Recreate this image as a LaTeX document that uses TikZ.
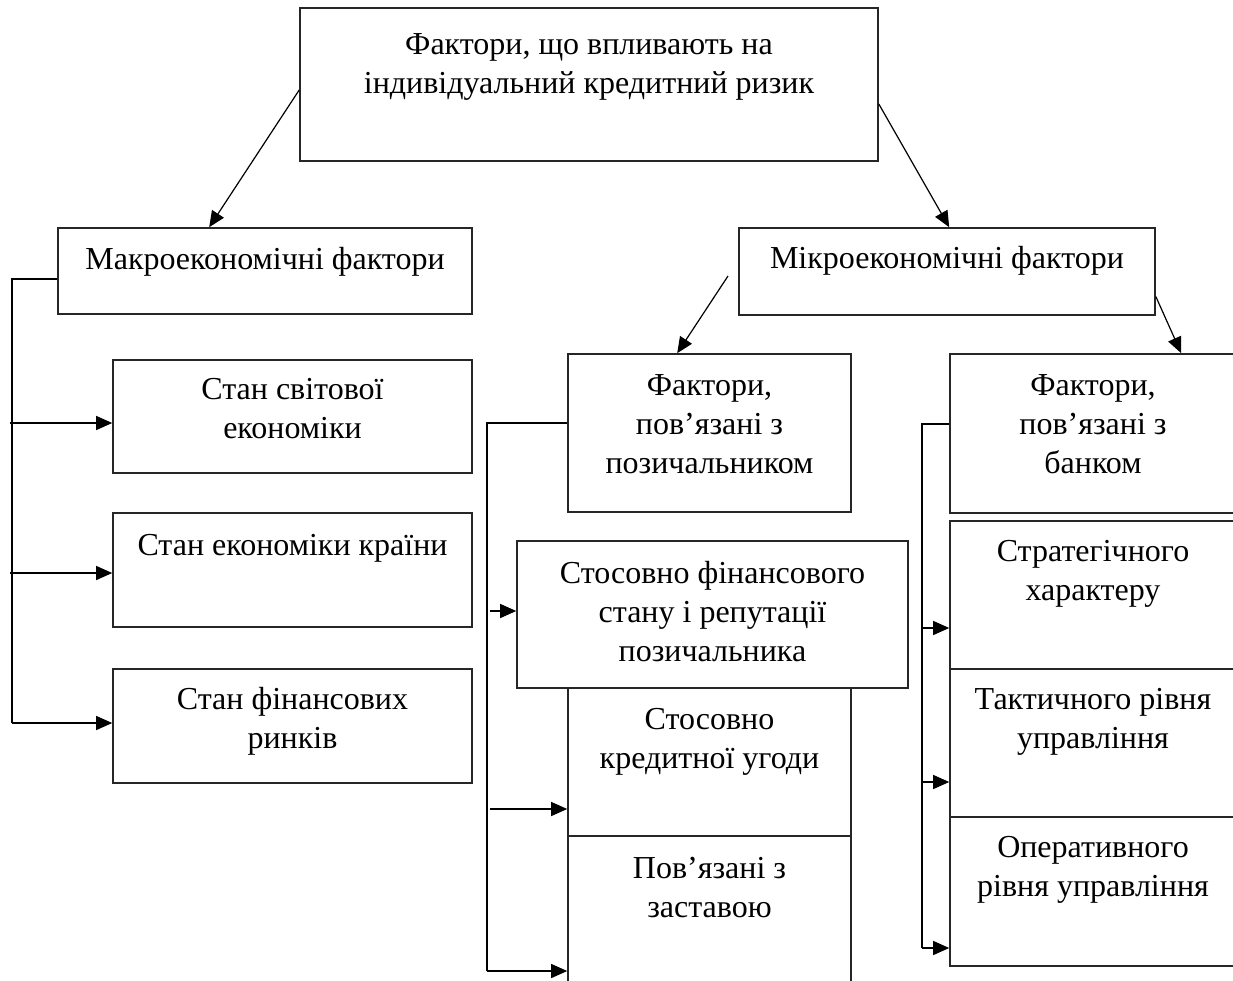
\documentclass[tikz,border=0pt]{standalone}
\usepackage{fontspec}
\setmainfont{Liberation Serif}
\usetikzlibrary{arrows.meta,calc,fit}
\newcommand\mystrut{\rule{0pt}{28pt}}
\tikzset{
  box/.style={draw=black!85, line width=1.6pt, inner sep=0pt, fill=none},
  txt/.style={anchor=north, align=center, inner sep=0pt,
    font=\fontsize{32}{39}\selectfont},
  conn/.style={draw=black, line width=1.2pt},
  arr/.style={conn, -{Triangle[length=16pt,width=14pt]}}
}
\begin{document}
\begin{tikzpicture}[x=1pt,y=-1pt]
\useasboundingbox (0,0) rectangle (1233,980);
\clip (0,0) rectangle (1233,980);
\fill[white] (0,0) rectangle (1233,980);
% boxes
\node[box, fit={(300,8) (878,161)}] (top) {};
\node[box, fit={(58,228) (472,314)}] (macro) {};
\node[box, fit={(739,228) (1155,315)}] (micro) {};
\node[box, fit={(113,360) (472,473)}] (s1) {};
\node[box, fit={(113,513) (472,627)}] (s2) {};
\node[box, fit={(113,669) (472,783)}] (s3) {};
\node[box, fit={(568,354) (851,512)}] (borrower) {};
\node[box, fit={(517,541) (908,688)}] (fin) {};
\node[box, fit={(568,688) (851,836)}] (credit) {};
\node[box, fit={(568,836) (851,1000)}] (collat) {};
\node[box, fit={(950,354) (1236,513)}] (bank) {};
\node[box, fit={(950,521) (1236,669)}] (strat) {};
\node[box, fit={(950,669) (1236,817)}] (tact) {};
\node[box, fit={(950,817) (1236,966)}] (oper) {};
% texts
\node[txt] (topT) at ($(top.north)+(0,19)$) {\mystrut Фактори, що впливають на\\індивідуальний кредитний ризик};
\node[txt] (macroT) at ($(macro.north)+(0,14)$) {\mystrut Макроекономічні фактори};
\node[txt] (microT) at ($(micro.north)+(0,13)$) {\mystrut Мікроекономічні фактори};
\node[txt] (s1T) at ($(s1.north)+(0,12)$) {\mystrut Стан світової\\економіки};
\node[txt] (s2T) at ($(s2.north)+(0,15)$) {\mystrut Стан економіки країни};
\node[txt] (s3T) at ($(s3.north)+(0,13)$) {\mystrut Стан фінансових\\ринків};
\node[txt] (borrowerT) at ($(borrower.north)+(0,14)$) {\mystrut Фактори,\\пов’язані з\\позичальником};
\node[txt] (finT) at ($(fin.north)+(0,15)$) {\mystrut Стосовно фінансового\\стану і репутації\\позичальника};
\node[txt] (creditT) at ($(credit.north)+(0,14)$) {\mystrut Стосовно\\кредитної угоди};
\node[txt] (collatT) at ($(collat.north)+(0,15)$) {\mystrut Пов’язані з\\заставою};
\node[txt] (bankT) at ($(bank.north)+(0,14)$) {\mystrut Фактори,\\пов’язані з\\банком};
\node[txt] (stratT) at ($(strat.north)+(0,13)$) {\mystrut Стратегічного\\характеру};
\node[txt] (tactT) at ($(tact.north)+(0,13)$) {\mystrut Тактичного рівня\\управління};
\node[txt] (operT) at ($(oper.north)+(0,13)$) {\mystrut Оперативного\\рівня управління};
% diagonal connectors
\draw[arr] ([yshift=-5.5pt]top.west) -- ([xshift=152pt]macro.north west);
\draw[arr] ([yshift=-19.5pt]top.east) -- ([xshift=211pt]micro.north west);
\coordinate (mfree) at (728,276);
\draw[arr] (mfree) -- ([xshift=110pt]borrower.north west);
\draw[arr] ([yshift=-25pt]micro.east) -- ([xshift=232pt]bank.north west);
% left bus
\coordinate (lb0) at (12,279);
\coordinate (lb1) at (12,423);
\coordinate (lb2) at (12,573);
\coordinate (lb3) at (12,723);
\draw[conn] (lb0 -| macro.west) -- (lb0) -- (lb3);
\draw[arr] (lb3) -- (lb3 -| s3.west);
\draw[arr] ([xshift=-2pt]lb1) -- (lb1 -| s1.west);
\draw[arr] ([xshift=-2pt]lb2) -- (lb2 -| s2.west);
% middle bus
\coordinate (mb0) at (487,423);
\coordinate (mb1) at (487,611);
\coordinate (mb2) at (487,809);
\coordinate (mb3) at (487,971);
\draw[conn] (mb0 -| borrower.west) -- (mb0) -- (mb3);
\draw[arr] (mb3) -- (mb3 -| collat.west);
\draw[arr] ([xshift=3pt]mb1) -- (mb1 -| fin.west);
\draw[arr] ([xshift=3pt]mb2) -- (mb2 -| credit.west);
% right bus
\coordinate (rb0) at (922,424);
\coordinate (rb1) at (922,628);
\coordinate (rb2) at (922,782);
\coordinate (rb3) at (922,948);
\draw[conn] (rb0 -| bank.west) -- (rb0) -- (rb3);
\draw[arr] (rb3) -- (rb3 -| oper.west);
\draw[arr] ([xshift=1pt]rb1) -- (rb1 -| strat.west);
\draw[arr] ([xshift=1pt]rb2) -- (rb2 -| tact.west);
\end{tikzpicture}
\end{document}
